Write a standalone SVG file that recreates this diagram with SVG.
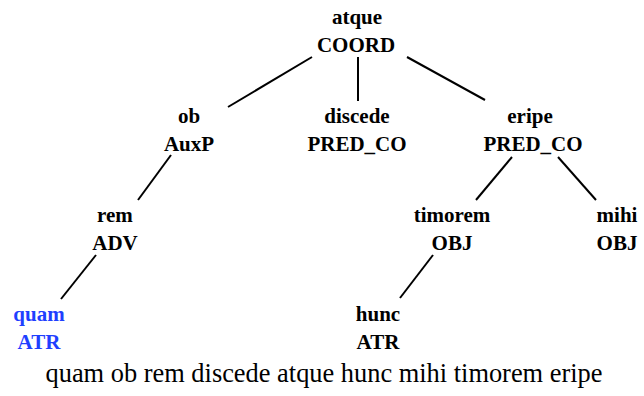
<svg xmlns="http://www.w3.org/2000/svg" width="644" height="396" viewBox="0 0 644 396">
<style>
.lbl{font-weight:bold;font-size:21px;fill:#000;text-anchor:middle}
.hl{fill:#1f3fff}
.edge{stroke:#000;stroke-width:2;fill:none}
.sent{font-size:26.4px;fill:#000;text-anchor:middle}
</style>
<rect width="644" height="396" fill="#fff"/>
<g id="connectors">
<line class="edge" x1="312" y1="57" x2="228" y2="107"/>
<line class="edge" x1="358" y1="57" x2="358" y2="101"/>
<line class="edge" x1="407" y1="57" x2="485" y2="100"/>
<line class="edge" x1="171" y1="155" x2="138" y2="200"/>
<line class="edge" x1="96" y1="255" x2="61" y2="299"/>
<line class="edge" x1="512" y1="157" x2="476" y2="200"/>
<line class="edge" x1="558" y1="157" x2="596" y2="200"/>
<line class="edge" x1="433" y1="255" x2="400" y2="298"/>
</g>
<g font-family="'Liberation Serif', 'Times New Roman', Times, serif">
<g id="n-atque"><text class="lbl" x="357" y="24">atque</text><text class="lbl" x="356" y="52">COORD</text></g>
<g id="n-ob"><text class="lbl" x="189" y="123">ob</text><text class="lbl" x="189" y="151">AuxP</text></g>
<g id="n-discede"><text class="lbl" x="357" y="123">discede</text><text class="lbl" x="357" y="151">PRED_CO</text></g>
<g id="n-eripe"><text class="lbl" x="530" y="123">eripe</text><text class="lbl" x="533" y="151">PRED_CO</text></g>
<g id="n-rem"><text class="lbl" x="115" y="222">rem</text><text class="lbl" x="115" y="250">ADV</text></g>
<g id="n-timorem"><text class="lbl" x="452" y="222">timorem</text><text class="lbl" x="452" y="250">OBJ</text></g>
<g id="n-mihi"><text class="lbl" x="617" y="222">mihi</text><text class="lbl" x="617" y="250">OBJ</text></g>
<g id="n-quam"><text class="lbl hl" x="39" y="321">quam</text><text class="lbl hl" x="39" y="349">ATR</text></g>
<g id="n-hunc"><text class="lbl" x="378" y="321">hunc</text><text class="lbl" x="378" y="349">ATR</text></g>
<text class="sent" x="324" y="382">quam ob rem discede atque hunc mihi timorem eripe</text>
</g>
</svg>
